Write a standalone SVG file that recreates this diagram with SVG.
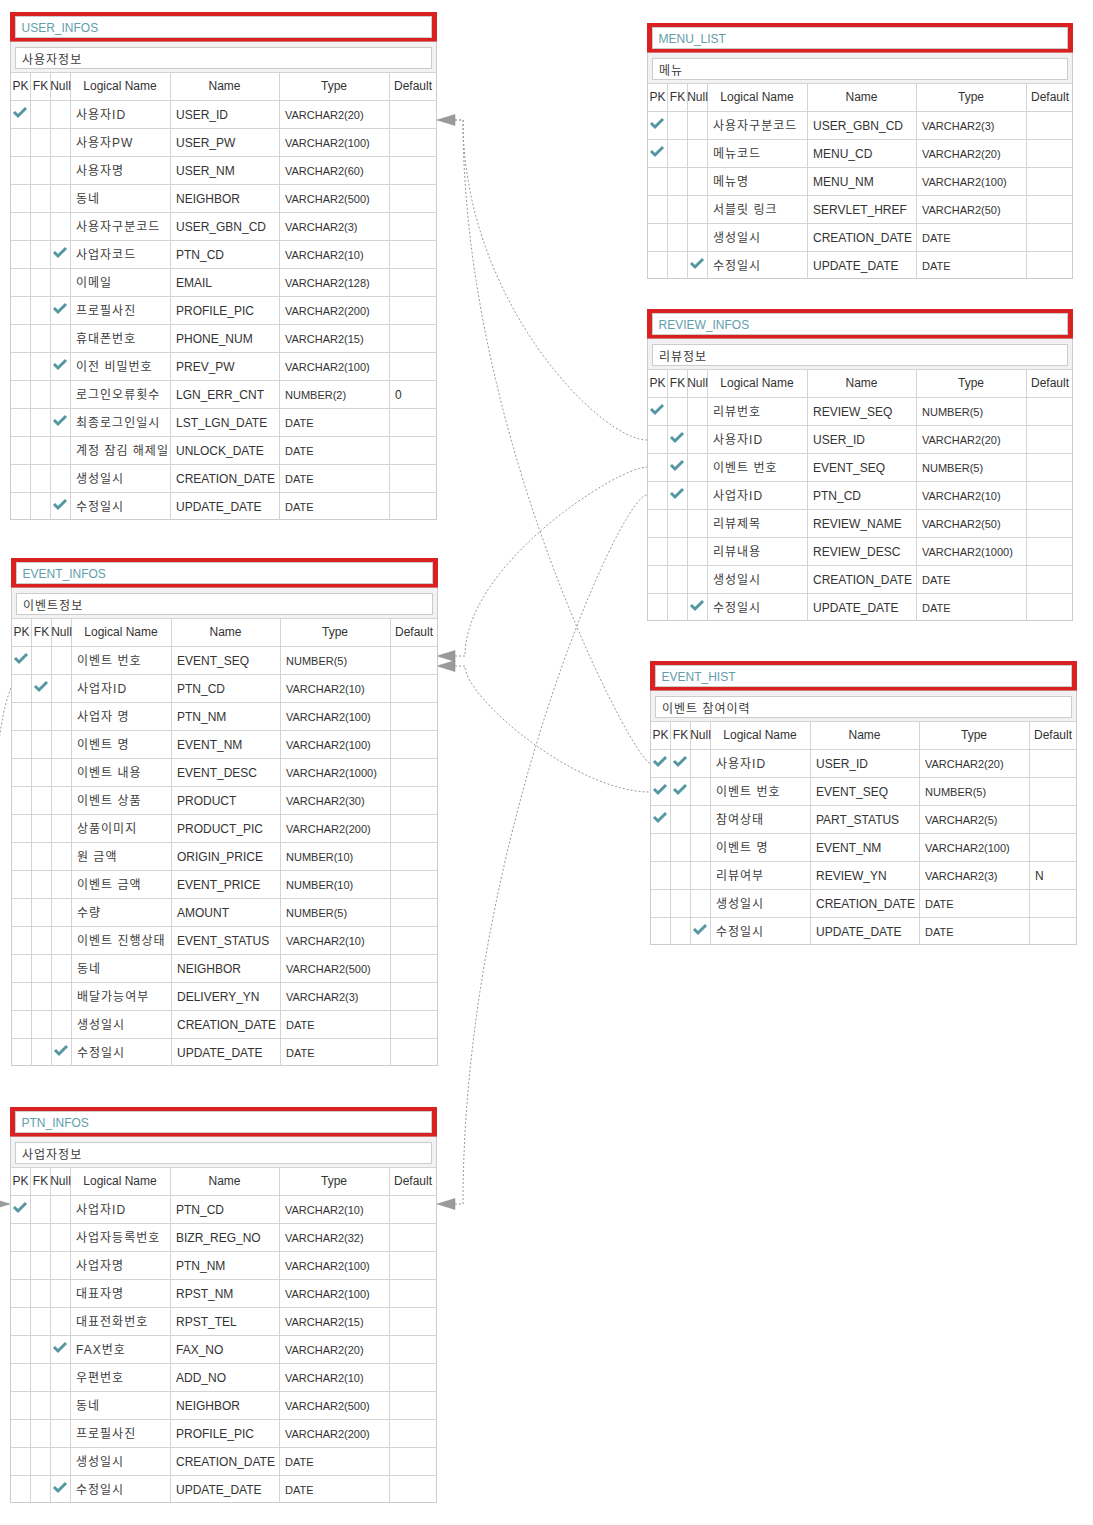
<svg xmlns="http://www.w3.org/2000/svg" xmlns:xlink="http://www.w3.org/1999/xlink" width="1093" height="1525" viewBox="0 0 1093 1525">
<style>
text{font-family:"Liberation Sans","Noto Sans CJK KR",sans-serif;fill:#333;font-size:12px}
.k{letter-spacing:1px;fill:#3c3c3c}
.ty{font-size:11px}
.title{fill:#5f9eab}
.hd{text-anchor:middle}
.red{fill:#da2121}
.box{fill:#fff;stroke:#ccc;stroke-width:1}
.descbg{fill:#f2f2f2}
.frame{fill:#fff;stroke:#ccc;stroke-width:1}
.grid{fill:none;stroke:#d4d4d4;stroke-width:1}
.conn{fill:none;stroke:#9a9a9a;stroke-width:1;stroke-dasharray:2 2}
.arr{fill:#9a9a9a;stroke:#8a8a8a;stroke-width:.5}
</style>
<defs>
<path id="ck" d="M-6,0 L-2,4 L6,-4" fill="none" stroke="#5596a3" stroke-width="3"/>
<clipPath id="lnclip"><rect x="60" y="0" width="100" height="520"/></clipPath>
</defs>

<g id="connectors">
<path class="conn" d="M455,120 H463 C463,300 600,440 647,440"/>
<path class="conn" d="M455,120 H463 C463,440 635,763 650,763"/>
<path class="conn" d="M455,656 H465 C465,564 618,467 647,467"/>
<path class="conn" d="M455,666 H465 C465,698 576,792 650,792"/>
<path class="conn" d="M455,1204 H463 C463,850 620,495 647,495"/>
<path class="conn" d="M11,688 C-20,758 -17,1150 -17,1204 H-8"/>
<polygon class="arr" points="437,120 455,114.5 455,125.5"/>
<polygon class="arr" points="437,656 455,650.5 455,661.5"/>
<polygon class="arr" points="437,666 455,660.5 455,671.5"/>
<polygon class="arr" points="437,1204 455,1198.5 455,1209.5"/>
<polygon class="arr" points="10,1204 -8,1198.5 -8,1209.5"/>
</g>

<!-- USER_INFOS -->
<g id="user_infos" transform="translate(10,12)">
<rect class="frame" x="0.5" y="29.5" width="426" height="478"/>
<rect class="descbg" x="1" y="30" width="425" height="30"/>
<rect class="red" x="0" y="0" width="427" height="29.5"/>
<rect class="box" x="5.5" y="4.5" width="416" height="21"/>
<text class="title" x="11.5" y="20">USER_INFOS</text>
<rect class="box" x="5.5" y="35.5" width="416" height="21"/>
<text class="k" x="12" y="51.5">사용자정보</text>
<path class="grid" d="M0 60.5H427M0 88.5H427M0 116.5H427M0 144.5H427M0 172.5H427M0 200.5H427M0 228.5H427M0 256.5H427M0 284.5H427M0 312.5H427M0 340.5H427M0 368.5H427M0 396.5H427M0 424.5H427M0 452.5H427M0 480.5H427M20.5 60V508M40.5 60V508M60.5 60V508M160.5 60V508M269.5 60V508M379.5 60V508"/>
<text class="hd" x="10.5" y="78">PK</text><text class="hd" x="30.5" y="78">FK</text><text class="hd" x="50.5" y="78">Null</text><text class="hd" x="110" y="78">Logical Name</text><text class="hd" x="214.5" y="78">Name</text><text class="hd" x="324" y="78">Type</text><text class="hd" x="403" y="78">Default</text>
<use xlink:href="#ck" x="10" y="100"/>
<text class="k" x="66" y="107">사용자ID</text><text x="166" y="107">USER_ID</text><text class="ty" x="275" y="106.5">VARCHAR2(20)</text>
<text class="k" x="66" y="135">사용자PW</text><text x="166" y="135">USER_PW</text><text class="ty" x="275" y="134.5">VARCHAR2(100)</text>
<text class="k" x="66" y="163">사용자명</text><text x="166" y="163">USER_NM</text><text class="ty" x="275" y="162.5">VARCHAR2(60)</text>
<text class="k" x="66" y="191">동네</text><text x="166" y="191">NEIGHBOR</text><text class="ty" x="275" y="190.5">VARCHAR2(500)</text>
<text class="k" x="66" y="219">사용자구분코드</text><text x="166" y="219">USER_GBN_CD</text><text class="ty" x="275" y="218.5">VARCHAR2(3)</text>
<use xlink:href="#ck" x="50" y="240"/>
<text class="k" x="66" y="247">사업자코드</text><text x="166" y="247">PTN_CD</text><text class="ty" x="275" y="246.5">VARCHAR2(10)</text>
<text class="k" x="66" y="275">이메일</text><text x="166" y="275">EMAIL</text><text class="ty" x="275" y="274.5">VARCHAR2(128)</text>
<use xlink:href="#ck" x="50" y="296"/>
<text class="k" x="66" y="303">프로필사진</text><text x="166" y="303">PROFILE_PIC</text><text class="ty" x="275" y="302.5">VARCHAR2(200)</text>
<text class="k" x="66" y="331">휴대폰번호</text><text x="166" y="331">PHONE_NUM</text><text class="ty" x="275" y="330.5">VARCHAR2(15)</text>
<use xlink:href="#ck" x="50" y="352"/>
<text class="k" x="66" y="359">이전 비밀번호</text><text x="166" y="359">PREV_PW</text><text class="ty" x="275" y="358.5">VARCHAR2(100)</text>
<text class="k" x="66" y="387">로그인오류횟수</text><text x="166" y="387">LGN_ERR_CNT</text><text class="ty" x="275" y="386.5">NUMBER(2)</text><text x="385" y="387">0</text>
<use xlink:href="#ck" x="50" y="408"/>
<text class="k" x="66" y="415">최종로그인일시</text><text x="166" y="415">LST_LGN_DATE</text><text class="ty" x="275" y="414.5">DATE</text>
<text class="k" x="66" y="443" clip-path="url(#lnclip)">계정 잠김 해제일시</text><text x="166" y="443">UNLOCK_DATE</text><text class="ty" x="275" y="442.5">DATE</text>
<text class="k" x="66" y="471">생성일시</text><text x="166" y="471">CREATION_DATE</text><text class="ty" x="275" y="470.5">DATE</text>
<use xlink:href="#ck" x="50" y="492"/>
<text class="k" x="66" y="499">수정일시</text><text x="166" y="499">UPDATE_DATE</text><text class="ty" x="275" y="498.5">DATE</text>
</g>

<!-- MENU_LIST -->
<g id="menu_list" transform="translate(647,23)">
<rect class="frame" x="0.5" y="29.5" width="425" height="226"/>
<rect class="descbg" x="1" y="30" width="424" height="30"/>
<rect class="red" x="0" y="0" width="426" height="29.5"/>
<rect class="box" x="5.5" y="4.5" width="415" height="21"/>
<text class="title" x="11.5" y="20">MENU_LIST</text>
<rect class="box" x="5.5" y="35.5" width="415" height="21"/>
<text class="k" x="12" y="51.5">메뉴</text>
<path class="grid" d="M0 60.5H426M0 88.5H426M0 116.5H426M0 144.5H426M0 172.5H426M0 200.5H426M0 228.5H426M20.5 60V256M40.5 60V256M60.5 60V256M160.5 60V256M269.5 60V256M379.5 60V256"/>
<text class="hd" x="10.5" y="78">PK</text><text class="hd" x="30.5" y="78">FK</text><text class="hd" x="50.5" y="78">Null</text><text class="hd" x="110" y="78">Logical Name</text><text class="hd" x="214.5" y="78">Name</text><text class="hd" x="324" y="78">Type</text><text class="hd" x="403" y="78">Default</text>
<use xlink:href="#ck" x="10" y="100"/>
<text class="k" x="66" y="107">사용자구분코드</text><text x="166" y="107">USER_GBN_CD</text><text class="ty" x="275" y="106.5">VARCHAR2(3)</text>
<use xlink:href="#ck" x="10" y="128"/>
<text class="k" x="66" y="135">메뉴코드</text><text x="166" y="135">MENU_CD</text><text class="ty" x="275" y="134.5">VARCHAR2(20)</text>
<text class="k" x="66" y="163">메뉴명</text><text x="166" y="163">MENU_NM</text><text class="ty" x="275" y="162.5">VARCHAR2(100)</text>
<text class="k" x="66" y="191">서블릿 링크</text><text x="166" y="191">SERVLET_HREF</text><text class="ty" x="275" y="190.5">VARCHAR2(50)</text>
<text class="k" x="66" y="219">생성일시</text><text x="166" y="219">CREATION_DATE</text><text class="ty" x="275" y="218.5">DATE</text>
<use xlink:href="#ck" x="50" y="240"/>
<text class="k" x="66" y="247">수정일시</text><text x="166" y="247">UPDATE_DATE</text><text class="ty" x="275" y="246.5">DATE</text>
</g>

<!-- REVIEW_INFOS -->
<g id="review_infos" transform="translate(647,309)">
<rect class="frame" x="0.5" y="29.5" width="425" height="282"/>
<rect class="descbg" x="1" y="30" width="424" height="30"/>
<rect class="red" x="0" y="0" width="426" height="29.5"/>
<rect class="box" x="5.5" y="4.5" width="415" height="21"/>
<text class="title" x="11.5" y="20">REVIEW_INFOS</text>
<rect class="box" x="5.5" y="35.5" width="415" height="21"/>
<text class="k" x="12" y="51.5">리뷰정보</text>
<path class="grid" d="M0 60.5H426M0 88.5H426M0 116.5H426M0 144.5H426M0 172.5H426M0 200.5H426M0 228.5H426M0 256.5H426M0 284.5H426M20.5 60V312M40.5 60V312M60.5 60V312M160.5 60V312M269.5 60V312M379.5 60V312"/>
<text class="hd" x="10.5" y="78">PK</text><text class="hd" x="30.5" y="78">FK</text><text class="hd" x="50.5" y="78">Null</text><text class="hd" x="110" y="78">Logical Name</text><text class="hd" x="214.5" y="78">Name</text><text class="hd" x="324" y="78">Type</text><text class="hd" x="403" y="78">Default</text>
<use xlink:href="#ck" x="10" y="100"/>
<text class="k" x="66" y="107">리뷰번호</text><text x="166" y="107">REVIEW_SEQ</text><text class="ty" x="275" y="106.5">NUMBER(5)</text>
<use xlink:href="#ck" x="30" y="128"/>
<text class="k" x="66" y="135">사용자ID</text><text x="166" y="135">USER_ID</text><text class="ty" x="275" y="134.5">VARCHAR2(20)</text>
<use xlink:href="#ck" x="30" y="156"/>
<text class="k" x="66" y="163">이벤트 번호</text><text x="166" y="163">EVENT_SEQ</text><text class="ty" x="275" y="162.5">NUMBER(5)</text>
<use xlink:href="#ck" x="30" y="184"/>
<text class="k" x="66" y="191">사업자ID</text><text x="166" y="191">PTN_CD</text><text class="ty" x="275" y="190.5">VARCHAR2(10)</text>
<text class="k" x="66" y="219">리뷰제목</text><text x="166" y="219">REVIEW_NAME</text><text class="ty" x="275" y="218.5">VARCHAR2(50)</text>
<text class="k" x="66" y="247">리뷰내용</text><text x="166" y="247">REVIEW_DESC</text><text class="ty" x="275" y="246.5">VARCHAR2(1000)</text>
<text class="k" x="66" y="275">생성일시</text><text x="166" y="275">CREATION_DATE</text><text class="ty" x="275" y="274.5">DATE</text>
<use xlink:href="#ck" x="50" y="296"/>
<text class="k" x="66" y="303">수정일시</text><text x="166" y="303">UPDATE_DATE</text><text class="ty" x="275" y="302.5">DATE</text>
</g>

<!-- EVENT_HIST -->
<g id="event_hist" transform="translate(650,661)">
<rect class="frame" x="0.5" y="29.5" width="426" height="254"/>
<rect class="descbg" x="1" y="30" width="425" height="30"/>
<rect class="red" x="0" y="0" width="427" height="29.5"/>
<rect class="box" x="5.5" y="4.5" width="416" height="21"/>
<text class="title" x="11.5" y="20">EVENT_HIST</text>
<rect class="box" x="5.5" y="35.5" width="416" height="21"/>
<text class="k" x="12" y="51.5">이벤트 참여이력</text>
<path class="grid" d="M0 60.5H427M0 88.5H427M0 116.5H427M0 144.5H427M0 172.5H427M0 200.5H427M0 228.5H427M0 256.5H427M20.5 60V284M40.5 60V284M60.5 60V284M160.5 60V284M269.5 60V284M379.5 60V284"/>
<text class="hd" x="10.5" y="78">PK</text><text class="hd" x="30.5" y="78">FK</text><text class="hd" x="50.5" y="78">Null</text><text class="hd" x="110" y="78">Logical Name</text><text class="hd" x="214.5" y="78">Name</text><text class="hd" x="324" y="78">Type</text><text class="hd" x="403" y="78">Default</text>
<use xlink:href="#ck" x="10" y="100"/><use xlink:href="#ck" x="30" y="100"/>
<text class="k" x="66" y="107">사용자ID</text><text x="166" y="107">USER_ID</text><text class="ty" x="275" y="106.5">VARCHAR2(20)</text>
<use xlink:href="#ck" x="10" y="128"/><use xlink:href="#ck" x="30" y="128"/>
<text class="k" x="66" y="135">이벤트 번호</text><text x="166" y="135">EVENT_SEQ</text><text class="ty" x="275" y="134.5">NUMBER(5)</text>
<use xlink:href="#ck" x="10" y="156"/>
<text class="k" x="66" y="163">참여상태</text><text x="166" y="163">PART_STATUS</text><text class="ty" x="275" y="162.5">VARCHAR2(5)</text>
<text class="k" x="66" y="191">이벤트 명</text><text x="166" y="191">EVENT_NM</text><text class="ty" x="275" y="190.5">VARCHAR2(100)</text>
<text class="k" x="66" y="219">리뷰여부</text><text x="166" y="219">REVIEW_YN</text><text class="ty" x="275" y="218.5">VARCHAR2(3)</text><text x="385" y="219">N</text>
<text class="k" x="66" y="247">생성일시</text><text x="166" y="247">CREATION_DATE</text><text class="ty" x="275" y="246.5">DATE</text>
<use xlink:href="#ck" x="50" y="268"/>
<text class="k" x="66" y="275">수정일시</text><text x="166" y="275">UPDATE_DATE</text><text class="ty" x="275" y="274.5">DATE</text>
</g>

<!-- EVENT_INFOS -->
<g id="event_infos" transform="translate(11,558)">
<rect class="frame" x="0.5" y="29.5" width="426" height="478"/>
<rect class="descbg" x="1" y="30" width="425" height="30"/>
<rect class="red" x="0" y="0" width="427" height="29.5"/>
<rect class="box" x="5.5" y="4.5" width="416" height="21"/>
<text class="title" x="11.5" y="20">EVENT_INFOS</text>
<rect class="box" x="5.5" y="35.5" width="416" height="21"/>
<text class="k" x="12" y="51.5">이벤트정보</text>
<path class="grid" d="M0 60.5H427M0 88.5H427M0 116.5H427M0 144.5H427M0 172.5H427M0 200.5H427M0 228.5H427M0 256.5H427M0 284.5H427M0 312.5H427M0 340.5H427M0 368.5H427M0 396.5H427M0 424.5H427M0 452.5H427M0 480.5H427M20.5 60V508M40.5 60V508M60.5 60V508M160.5 60V508M269.5 60V508M379.5 60V508"/>
<text class="hd" x="10.5" y="78">PK</text><text class="hd" x="30.5" y="78">FK</text><text class="hd" x="50.5" y="78">Null</text><text class="hd" x="110" y="78">Logical Name</text><text class="hd" x="214.5" y="78">Name</text><text class="hd" x="324" y="78">Type</text><text class="hd" x="403" y="78">Default</text>
<use xlink:href="#ck" x="10" y="100"/>
<text class="k" x="66" y="107">이벤트 번호</text><text x="166" y="107">EVENT_SEQ</text><text class="ty" x="275" y="106.5">NUMBER(5)</text>
<use xlink:href="#ck" x="30" y="128"/>
<text class="k" x="66" y="135">사업자ID</text><text x="166" y="135">PTN_CD</text><text class="ty" x="275" y="134.5">VARCHAR2(10)</text>
<text class="k" x="66" y="163">사업자 명</text><text x="166" y="163">PTN_NM</text><text class="ty" x="275" y="162.5">VARCHAR2(100)</text>
<text class="k" x="66" y="191">이벤트 명</text><text x="166" y="191">EVENT_NM</text><text class="ty" x="275" y="190.5">VARCHAR2(100)</text>
<text class="k" x="66" y="219">이벤트 내용</text><text x="166" y="219">EVENT_DESC</text><text class="ty" x="275" y="218.5">VARCHAR2(1000)</text>
<text class="k" x="66" y="247">이벤트 상품</text><text x="166" y="247">PRODUCT</text><text class="ty" x="275" y="246.5">VARCHAR2(30)</text>
<text class="k" x="66" y="275">상품이미지</text><text x="166" y="275">PRODUCT_PIC</text><text class="ty" x="275" y="274.5">VARCHAR2(200)</text>
<text class="k" x="66" y="303">원 금액</text><text x="166" y="303">ORIGIN_PRICE</text><text class="ty" x="275" y="302.5">NUMBER(10)</text>
<text class="k" x="66" y="331">이벤트 금액</text><text x="166" y="331">EVENT_PRICE</text><text class="ty" x="275" y="330.5">NUMBER(10)</text>
<text class="k" x="66" y="359">수량</text><text x="166" y="359">AMOUNT</text><text class="ty" x="275" y="358.5">NUMBER(5)</text>
<text class="k" x="66" y="387">이벤트 진행상태</text><text x="166" y="387">EVENT_STATUS</text><text class="ty" x="275" y="386.5">VARCHAR2(10)</text>
<text class="k" x="66" y="415">동네</text><text x="166" y="415">NEIGHBOR</text><text class="ty" x="275" y="414.5">VARCHAR2(500)</text>
<text class="k" x="66" y="443">배달가능여부</text><text x="166" y="443">DELIVERY_YN</text><text class="ty" x="275" y="442.5">VARCHAR2(3)</text>
<text class="k" x="66" y="471">생성일시</text><text x="166" y="471">CREATION_DATE</text><text class="ty" x="275" y="470.5">DATE</text>
<use xlink:href="#ck" x="50" y="492"/>
<text class="k" x="66" y="499">수정일시</text><text x="166" y="499">UPDATE_DATE</text><text class="ty" x="275" y="498.5">DATE</text>
</g>

<!-- PTN_INFOS -->
<g id="ptn_infos" transform="translate(10,1107)">
<rect class="frame" x="0.5" y="29.5" width="426" height="366"/>
<rect class="descbg" x="1" y="30" width="425" height="30"/>
<rect class="red" x="0" y="0" width="427" height="29.5"/>
<rect class="box" x="5.5" y="4.5" width="416" height="21"/>
<text class="title" x="11.5" y="20">PTN_INFOS</text>
<rect class="box" x="5.5" y="35.5" width="416" height="21"/>
<text class="k" x="12" y="51.5">사업자정보</text>
<path class="grid" d="M0 60.5H427M0 88.5H427M0 116.5H427M0 144.5H427M0 172.5H427M0 200.5H427M0 228.5H427M0 256.5H427M0 284.5H427M0 312.5H427M0 340.5H427M0 368.5H427M20.5 60V396M40.5 60V396M60.5 60V396M160.5 60V396M269.5 60V396M379.5 60V396"/>
<text class="hd" x="10.5" y="78">PK</text><text class="hd" x="30.5" y="78">FK</text><text class="hd" x="50.5" y="78">Null</text><text class="hd" x="110" y="78">Logical Name</text><text class="hd" x="214.5" y="78">Name</text><text class="hd" x="324" y="78">Type</text><text class="hd" x="403" y="78">Default</text>
<use xlink:href="#ck" x="10" y="100"/>
<text class="k" x="66" y="107">사업자ID</text><text x="166" y="107">PTN_CD</text><text class="ty" x="275" y="106.5">VARCHAR2(10)</text>
<text class="k" x="66" y="135">사업자등록번호</text><text x="166" y="135">BIZR_REG_NO</text><text class="ty" x="275" y="134.5">VARCHAR2(32)</text>
<text class="k" x="66" y="163">사업자명</text><text x="166" y="163">PTN_NM</text><text class="ty" x="275" y="162.5">VARCHAR2(100)</text>
<text class="k" x="66" y="191">대표자명</text><text x="166" y="191">RPST_NM</text><text class="ty" x="275" y="190.5">VARCHAR2(100)</text>
<text class="k" x="66" y="219">대표전화번호</text><text x="166" y="219">RPST_TEL</text><text class="ty" x="275" y="218.5">VARCHAR2(15)</text>
<use xlink:href="#ck" x="50" y="240"/>
<text class="k" x="66" y="247">FAX번호</text><text x="166" y="247">FAX_NO</text><text class="ty" x="275" y="246.5">VARCHAR2(20)</text>
<text class="k" x="66" y="275">우편번호</text><text x="166" y="275">ADD_NO</text><text class="ty" x="275" y="274.5">VARCHAR2(10)</text>
<text class="k" x="66" y="303">동네</text><text x="166" y="303">NEIGHBOR</text><text class="ty" x="275" y="302.5">VARCHAR2(500)</text>
<text class="k" x="66" y="331">프로필사진</text><text x="166" y="331">PROFILE_PIC</text><text class="ty" x="275" y="330.5">VARCHAR2(200)</text>
<text class="k" x="66" y="359">생성일시</text><text x="166" y="359">CREATION_DATE</text><text class="ty" x="275" y="358.5">DATE</text>
<use xlink:href="#ck" x="50" y="380"/>
<text class="k" x="66" y="387">수정일시</text><text x="166" y="387">UPDATE_DATE</text><text class="ty" x="275" y="386.5">DATE</text>
</g>
</svg>
